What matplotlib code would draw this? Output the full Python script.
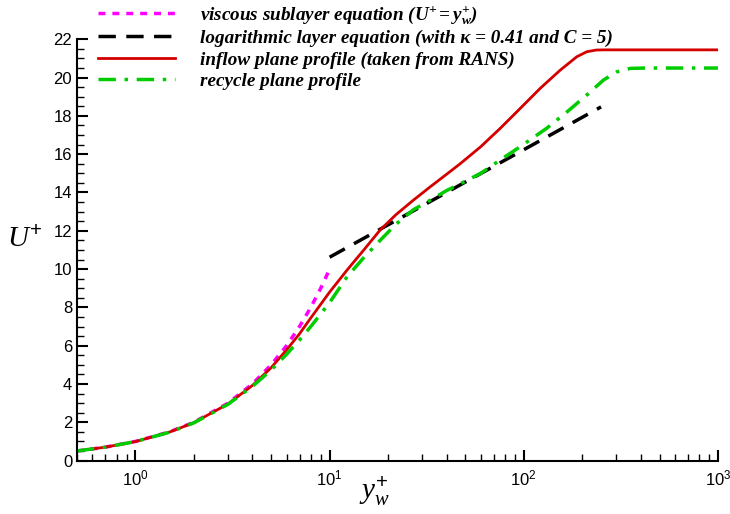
import matplotlib
matplotlib.use("Agg")
import matplotlib.pyplot as plt
from matplotlib.ticker import LogLocator, MultipleLocator, NullFormatter

# viscous sublayer U+ = y+
visc_y = [0.5, 0.7, 1, 1.5, 2, 3, 4, 5, 6, 7, 8, 9, 10]
visc_u = [0.5, 0.7, 1, 1.5, 2, 3, 4, 5, 6, 7, 8, 9, 10]

# log layer (straight on log axis)
log_y = [10, 250]
log_u = [10.62, 18.47]

# inflow plane profile (RANS)
inflow_y = [0.5, 0.7, 1, 1.5, 2, 3, 4, 5, 6, 7, 8, 10, 12.3, 15, 18.2, 22, 27, 33,
            40, 47, 60, 75.6, 95.8, 121.5, 154, 187.5, 211, 236, 260, 1000]
inflow_u = [0.5, 0.7, 0.99, 1.49, 1.98, 2.96, 3.92, 4.85, 5.78, 6.62, 7.45, 8.8,
            9.95, 11.0, 12.04, 12.85, 13.6, 14.3, 14.95, 15.5, 16.39, 17.35,
            18.39, 19.44, 20.39, 21.09, 21.35, 21.44, 21.45, 21.45]

# recycle plane profile
recyc_y = [0.5, 0.7, 1, 1.5, 2, 3, 4, 5, 6, 7, 8, 10, 12.3, 15, 18.2, 22, 27, 33,
           40, 47, 60, 75.6, 95.8, 131, 167, 211, 257, 301, 353, 420, 1000]
recyc_u = [0.5, 0.7, 0.99, 1.48, 1.97, 2.94, 3.87, 4.73, 5.55, 6.3, 7.0, 8.25, 9.6,
           10.6, 11.5, 12.35, 13.1, 13.6, 14.1, 14.45, 15.0, 15.7, 16.39, 17.35,
           18.21, 19.09, 19.87, 20.3, 20.48, 20.5, 20.5]

labels = [
    r"viscous sublayer equation ($\mathbf{U^{+} = y_{w}^{+}}$)",
    "logarithmic layer equation (with \u03ba = 0.41 and C = 5)",
    "inflow plane profile (taken from RANS)",
    "recycle plane profile",
]

plt.rcParams["mathtext.fontset"] = "custom"
plt.rcParams["mathtext.rm"] = "Liberation Sans"
plt.rcParams["mathtext.it"] = "Liberation Serif:italic"
plt.rcParams["mathtext.bf"] = "Liberation Serif:bold:italic"
plt.rcParams["font.family"] = "Liberation Sans"

fig = plt.figure(figsize=(7.3, 5.14), dpi=100)
ax = fig.add_axes([0.1055, 0.104, 0.878, 0.8195])

l1, = ax.plot(visc_y, visc_u, color="#ff00ff", lw=2.5, linestyle=(0, (2, 2)))
l2, = ax.plot(log_y, log_u, color="black", lw=2.5, linestyle=(0, (5, 3)))
l3, = ax.plot(inflow_y, inflow_u, color="#d40000", lw=2)
l4, = ax.plot(recyc_y, recyc_u, color="#00cc00", lw=2.5,
              linestyle=(0, (5, 2.5, 1, 2.5)))

ax.set_xscale("log")
ax.set_xlim(0.5, 1000)
ax.set_ylim(0, 22)
ax.yaxis.set_major_locator(MultipleLocator(2))
ax.yaxis.set_minor_locator(MultipleLocator(0.5))
ax.xaxis.set_major_locator(LogLocator(base=10))
ax.xaxis.set_minor_locator(LogLocator(base=10, subs=range(2, 10)))
ax.xaxis.set_minor_formatter(NullFormatter())

for s in ["top", "right"]:
    ax.spines[s].set_visible(False)
for s in ["left", "bottom"]:
    ax.spines[s].set_linewidth(1.5)
ax.tick_params(which="major", direction="in", length=8, width=1.5, labelsize=12)
ax.tick_params(which="minor", direction="in", length=5, width=1)
ax.tick_params(axis="x", pad=6)

fig.text(0.034, 0.535, r"$\mathit{U^{+}}$", fontsize=21, ha="center", va="center")
fig.text(0.513, 0.045, r"$\mathit{y_{w}^{+}}$", fontsize=21, ha="center", va="center")

fig.legend([l1, l2, l3, l4], labels, loc="upper left",
           bbox_to_anchor=(0.111, 1.026), frameon=False, handlelength=4.0,
           handletextpad=1.3, labelspacing=0.2,
           prop={"family": "Liberation Serif", "weight": "bold",
                 "style": "italic", "size": 13.8})

fig.savefig("out.png", dpi=100)
